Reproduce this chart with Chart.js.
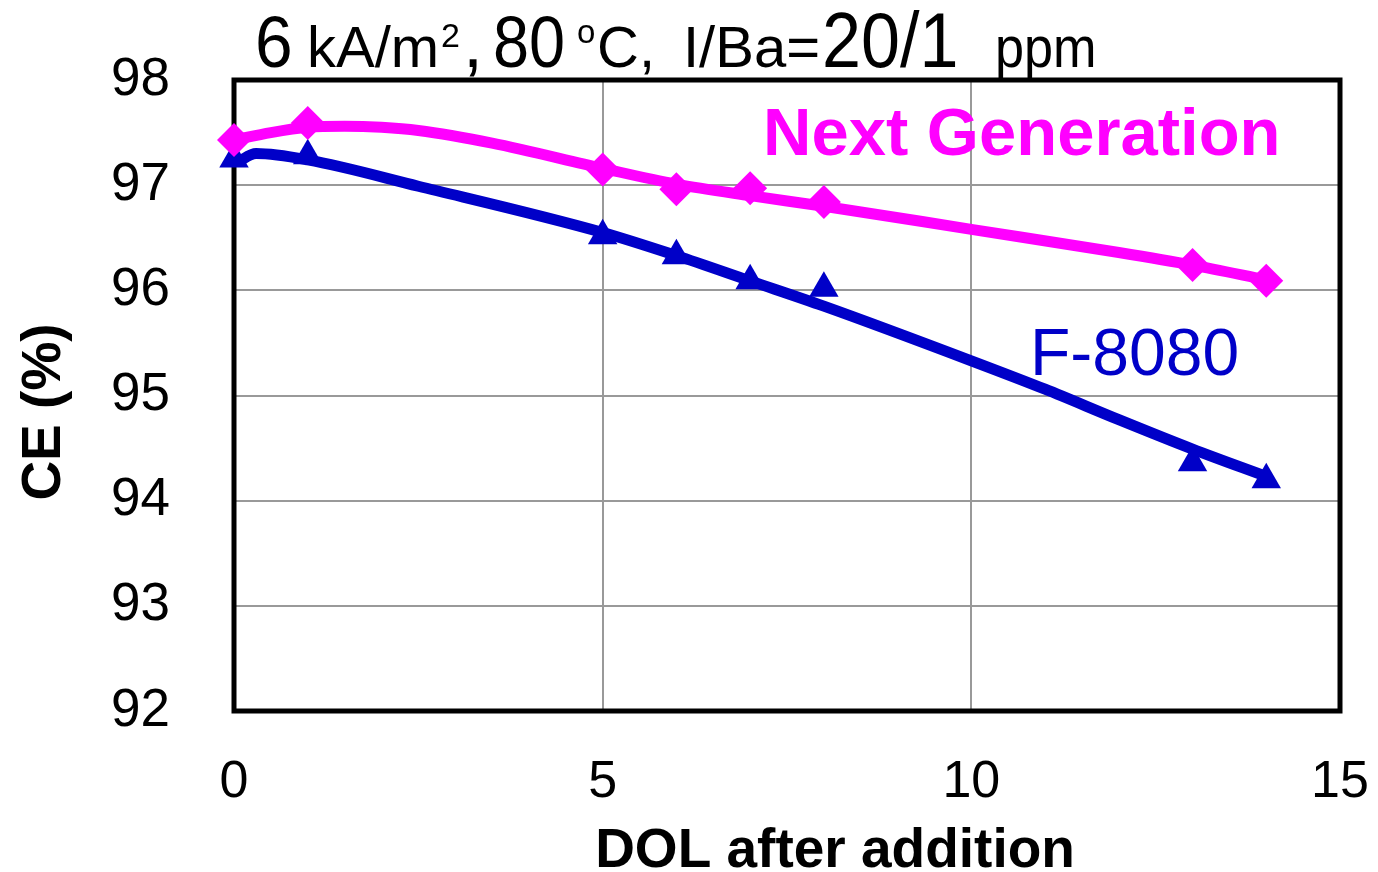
<!DOCTYPE html>
<html>
<head>
<meta charset="utf-8">
<script src="https://cdn.jsdelivr.net/npm/chart.js@4/dist/chart.umd.min.js"></script>
<style>
  body { margin: 0; background: #fff; }
  canvas { display: block; }
</style>
</head>
<body>
<canvas id="chart" width="1378" height="872"></canvas>
<script>
// measured points (markers)
const dolDays = [0, 1, 5, 6, 7, 8, 13, 14];
const nextGenCE = [97.43, 97.59, 97.15, 96.96, 96.97, 96.84, 96.24, 96.09];
const f8080CE = [97.25, 97.28, 96.52, 96.33, 96.09, 96.02, 94.36, 94.2];

// trend curves
const nextGenTrendX = [0, 0.5, 1, 1.5, 2, 2.5, 3.5, 5, 6, 7, 8, 10, 12, 13, 14];
const nextGenTrendY = [97.43, 97.5, 97.55, 97.56, 97.55, 97.52, 97.4, 97.16, 97.01, 96.9, 96.8, 96.58, 96.36, 96.24, 96.1];
const f8080TrendX = [0.05, 0.3, 1, 2.5, 5, 6, 7, 8, 10, 11, 12, 13, 14];
const f8080TrendY = [97.22, 97.3, 97.24, 96.99, 96.55, 96.33, 96.09, 95.85, 95.33, 95.06, 94.77, 94.49, 94.23];

const xTicks = [0, 5, 10, 15];
const yTicks = [92, 93, 94, 95, 96, 97, 98];

const MAGENTA = '#ff00ff';
const BLUE = '#0000c8';
const FONT = "'Liberation Sans', Arial, Helvetica, sans-serif";

const pts = (xs, ys) => xs.map((x, i) => ({ x: x, y: ys[i] }));

// title pieces: text, x, font size, horizontal squeeze, baseline
const titleParts = [
  ['6', 255, 72, 0.94, 67],
  ['kA/m', 307, 58, 1, 67],
  ['2', 441, 34, 1, 47],
  [',', 463, 72, 1, 67],
  ['80', 493, 72, 0.9, 67],
  ['o', 577, 33, 1, 43],
  ['C,', 597, 58, 1, 67],
  ['I/Ba=', 683, 58, 1, 67],
  ['20/1', 822, 77, 0.91, 67],
  ['ppm', 995, 58, 0.9, 67]
];

// box around plot + free text (title, axis titles, series labels)
const decorPlugin = {
  id: 'decor',
  beforeDatasetsDraw(chart) {
    const { ctx, chartArea: a } = chart;
    ctx.save();
    ctx.strokeStyle = '#000';
    ctx.lineWidth = 5;
    ctx.strokeRect(a.left, a.top, a.right - a.left, a.bottom - a.top);
    ctx.restore();
  },
  afterDraw(chart) {
    const ctx = chart.ctx;
    ctx.save();
    ctx.textBaseline = 'alphabetic';
    ctx.textAlign = 'left';
    ctx.fillStyle = '#000';

    titleParts.forEach(([t, x, size, sx, base]) => {
      ctx.save();
      ctx.font = size + 'px ' + FONT;
      ctx.translate(x, base);
      ctx.scale(sx, 1);
      ctx.fillText(t, 0, 0);
      ctx.restore();
    });

    // axis titles
    ctx.font = 'bold 55px ' + FONT;
    ctx.textAlign = 'center';
    ctx.fillText('DOL after addition', 835, 867);
    ctx.save();
    ctx.translate(60, 412);
    ctx.rotate(-Math.PI / 2);
    ctx.fillText('CE (%)', 0, 0);
    ctx.restore();

    ctx.textAlign = 'left';
    ctx.font = 'bold 67px ' + FONT;
    ctx.fillStyle = MAGENTA;
    ctx.fillText('Next Generation', 763, 155);

    ctx.font = '66px ' + FONT;
    ctx.fillStyle = BLUE;
    ctx.fillText('F-8080', 1030, 375);
    ctx.restore();
  }
};

const noPad = s => { s.paddingLeft = 0; s.paddingRight = 0; s.paddingTop = 0; s.paddingBottom = 0; };

new Chart(document.getElementById('chart'), {
  type: 'scatter',
  data: {
    datasets: [
      {
        label: 'Next Generation trend',
        data: pts(nextGenTrendX, nextGenTrendY),
        showLine: true,
        borderColor: MAGENTA,
        borderWidth: 11,
        pointRadius: 0,
        cubicInterpolationMode: 'monotone',
        clip: false
      },
      {
        label: 'F-8080 trend',
        data: pts(f8080TrendX, f8080TrendY),
        showLine: true,
        borderColor: BLUE,
        borderWidth: 11,
        pointRadius: 0,
        cubicInterpolationMode: 'monotone',
        clip: false
      },
      {
        label: 'Next Generation',
        data: pts(dolDays, nextGenCE),
        pointStyle: 'rectRot',
        pointRadius: 17,
        backgroundColor: MAGENTA,
        borderColor: MAGENTA,
        borderWidth: 0,
        clip: false
      },
      {
        label: 'F-8080',
        data: pts(dolDays, f8080CE),
        pointStyle: 'triangle',
        pointRadius: 17,
        backgroundColor: BLUE,
        borderColor: BLUE,
        borderWidth: 0,
        clip: false
      }
    ]
  },
  options: {
    responsive: false,
    devicePixelRatio: 1,
    animation: false,
    layout: { padding: { top: 80, right: 38, left: 0, bottom: 0 } },
    plugins: { legend: { display: false }, tooltip: { enabled: false } },
    scales: {
      x: {
        type: 'linear',
        min: 0, max: 15,
        afterFit: s => { s.height = 161; noPad(s); },
        afterBuildTicks: s => { s.ticks = xTicks.map(v => ({ value: v })); },
        grid: { color: '#999', lineWidth: 2, drawTicks: false },
        border: { display: false },
        ticks: { padding: 40, color: '#000', font: { family: FONT, size: 52 }, maxRotation: 0 }
      },
      y: {
        type: 'linear',
        min: 92, max: 98,
        afterFit: s => { s.width = 234; noPad(s); },
        afterBuildTicks: s => { s.ticks = yTicks.map(v => ({ value: v })); },
        grid: { color: '#999', lineWidth: 2, drawTicks: false },
        border: { display: false },
        ticks: { padding: 64, color: '#000', font: { family: FONT, size: 53 } }
      }
    }
  },
  plugins: [decorPlugin]
});
</script>
</body>
</html>
